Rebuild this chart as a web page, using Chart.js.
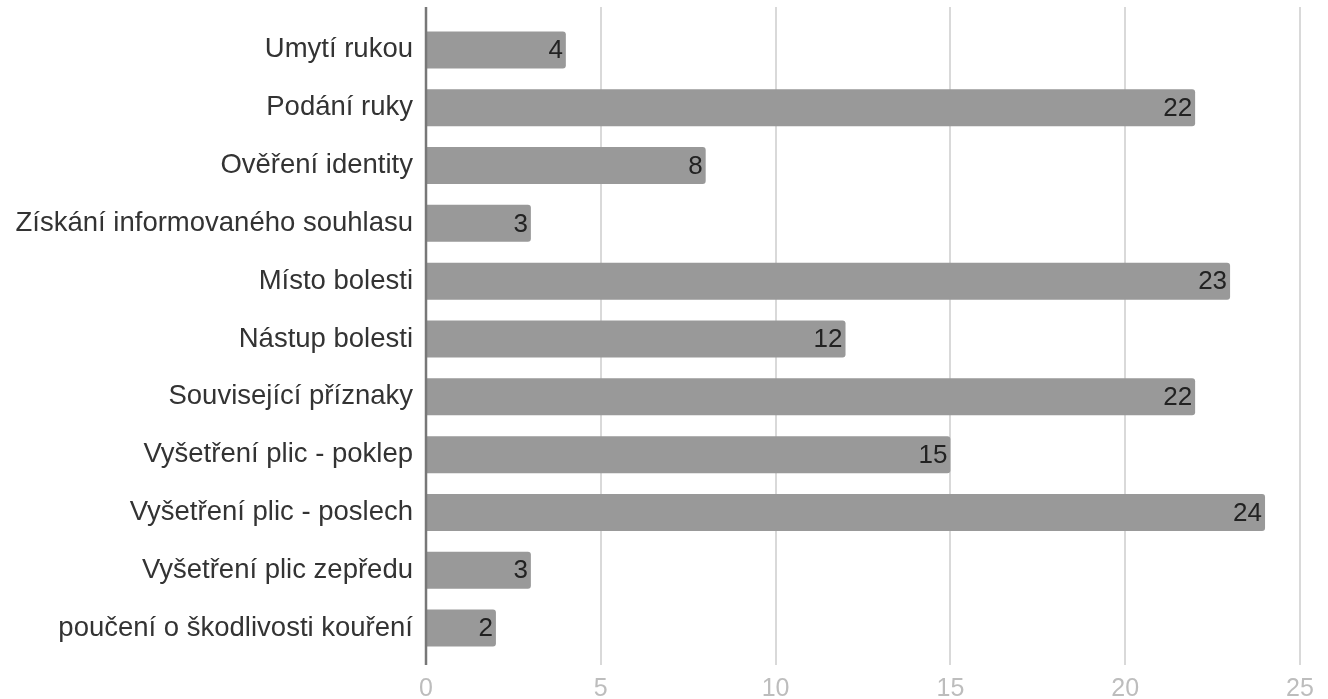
<!DOCTYPE html>
<html>
<head>
<meta charset="utf-8">
<script src="https://cdn.jsdelivr.net/npm/chart.js@4"></script>
<style>
  html, body { margin: 0; padding: 0; background: #fff; }
  #wrap { width: 1328px; height: 699px; }
</style>
</head>
<body>
<div id="wrap"><canvas id="chart"></canvas></div>
<script>
const categories = [
    'Umytí rukou',
    'Podání ruky',
    'Ověření identity',
    'Získání informovaného souhlasu',
    'Místo bolesti',
    'Nástup bolesti',
    'Související příznaky',
    'Vyšetření plic - poklep',
    'Vyšetření plic - poslech',
    'Vyšetření plic zepředu',
    'poučení o škodlivosti kouření',
];
const counts = [4, 22, 8, 3, 23, 12, 22, 15, 24, 3, 2];
const xTicks = [0, 5, 10, 15, 20, 25];

const FONT = 'Arial, "Liberation Sans", sans-serif';

// gridlines run a little past the plot area, like the original
const gridPlugin = {
    id: 'grid',
    beforeDatasetsDraw(chart) {
        const { ctx, chartArea, scales } = chart;
        ctx.save();
        ctx.strokeStyle = '#d9d9d9';
        ctx.lineWidth = 2;
        xTicks.forEach(t => {
            if (t === 0) return;
            const x = Math.round(scales.x.getPixelForValue(t));
            ctx.beginPath();
            ctx.moveTo(x, chartArea.top - 14);
            ctx.lineTo(x, chartArea.bottom + 8);
            ctx.stroke();
        });
        ctx.restore();
    },
    afterDatasetsDraw(chart) {
        const { ctx, chartArea, scales } = chart;
        const x0 = Math.round(scales.x.getPixelForValue(0));
        ctx.save();
        ctx.strokeStyle = '#777';
        ctx.lineWidth = 2.5;
        ctx.beginPath();
        ctx.moveTo(x0, chartArea.top - 14);
        ctx.lineTo(x0, chartArea.bottom + 8);
        ctx.stroke();

        // value labels inside the bar end
        ctx.fillStyle = '#222';
        ctx.font = '26px ' + FONT;
        ctx.textAlign = 'right';
        ctx.textBaseline = 'middle';
        chart.getDatasetMeta(0).data.forEach((bar, i) => {
            ctx.fillText(String(counts[i]), bar.x - 3, bar.y + 1);
        });
        ctx.restore();
    },
};

new Chart(document.getElementById('chart'), {
    type: 'bar',
    data: {
        labels: categories,
        datasets: [
            {
                data: counts,
                backgroundColor: '#999999',
                borderRadius: 3,
                borderSkipped: 'start',
                categoryPercentage: 1,
                barPercentage: 0.64,
            },
        ],
    },
    options: {
        indexAxis: 'y',
        responsive: true,
        maintainAspectRatio: false,
        animation: false,
        layout: {
            padding: { top: 21, right: 28, left: 0, bottom: 0 },
        },
        scales: {
            x: {
                min: 0,
                max: 25,
                afterBuildTicks: scale => {
                    scale.ticks = xTicks.map(v => ({ value: v }));
                },
                afterFit: scale => {
                    scale.height = 42;
                    scale.paddingLeft = 0;
                    scale.paddingRight = 0;
                },
                grid: { display: false, drawTicks: false },
                border: { display: false },
                ticks: {
                    color: '#bdbdbd',
                    font: { size: 25, family: FONT },
                    padding: 17,
                },
            },
            y: {
                afterFit: scale => {
                    scale.width = 426;
                    scale.paddingTop = 0;
                    scale.paddingBottom = 0;
                },
                grid: { display: false, drawTicks: false },
                border: { display: false },
                ticks: {
                    color: '#333',
                    font: { size: 27.5, family: FONT },
                    padding: 13,
                },
            },
        },
        plugins: {
            legend: { display: false },
            tooltip: { enabled: false },
        },
    },
    plugins: [gridPlugin],
});
</script>
</body>
</html>
